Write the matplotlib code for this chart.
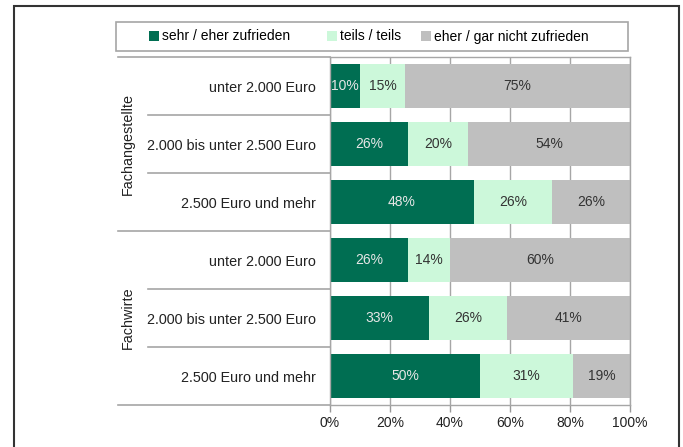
import matplotlib
matplotlib.use("Agg")
import matplotlib.pyplot as plt
from matplotlib.patches import Rectangle
import numpy as np

plt.rcParams['font.family'] = ['Liberation Sans', 'DejaVu Sans']

groups = ["Fachangestellte", "Fachwirte"]
incomes = ["unter 2.000 Euro", "2.000 bis unter 2.500 Euro", "2.500 Euro und mehr"]
series = ["sehr / eher zufrieden", "teils / teils", "eher / gar nicht zufrieden"]
colors = ["#006E52", "#CCF8DA", "#BFBFBF"]
text_colors = ["#E6E6E6", "#333333", "#333333"]

zufrieden = [10, 26, 48, 26, 33, 50]
teils = [15, 20, 26, 14, 26, 31]
nicht = [75, 54, 26, 60, 41, 19]

xticks = [0, 20, 40, 60, 80, 100]

fig = plt.figure(figsize=(6.83, 4.47), dpi=100)
ax = fig.add_axes([330 / 683, 1 - 405 / 447, 300 / 683, 348 / 447])

rows = len(zufrieden)
y = np.arange(rows)
values = [zufrieden, teils, nicht]
left = np.zeros(rows)
for vals, c, tc, name in zip(values, colors, text_colors, series):
    bars = ax.barh(y, vals, left=left, height=0.75, color=c, label=name, zorder=2)
    for b, v in zip(bars, vals):
        ax.text(b.get_x() + b.get_width() / 2, b.get_y() + b.get_height() / 2,
                f"{v}%", ha="center", va="center", color=tc, fontsize=10, zorder=3)
    left += np.array(vals)

ax.set_xlim(0, 100)
ax.set_ylim(rows - 0.5, -0.5)
ax.set_xticks(xticks)
ax.set_xticklabels([f"{t}%" for t in xticks], fontsize=10, color="#222222")
ax.set_yticks(y)
ax.set_yticklabels(incomes * 2, fontsize=10.4, color="#222222")
ax.tick_params(axis="y", length=0, pad=10)
ax.tick_params(axis="x", length=5, color="#999999", width=1, pad=3)
ax.grid(axis="x", color="#A6A6A6", linewidth=1, zorder=0)
ax.set_axisbelow(True)
for s in ax.spines.values():
    s.set_color("#A6A6A6")
    s.set_linewidth(1)

# separator lines in the label area
line_kw = dict(color="#A6A6A6", linewidth=1.2, clip_on=False)
for yb in [-0.5, 2.5, 5.5]:
    ax.plot([-70.7, 0], [yb, yb], **line_kw)
for yb in [0.5, 1.5, 3.5, 4.5]:
    ax.plot([-60.7, 0], [yb, yb], **line_kw)

for i, g in enumerate(groups):
    ax.text(-67.5, 3 * i + 1, g, rotation=90, ha="center", va="center",
            fontsize=10.4, color="#222222")

# legend box
fig.patches.append(Rectangle((116 / 683, 1 - 51 / 447), 512 / 683, 29 / 447,
                             transform=fig.transFigure, fill=False,
                             edgecolor="#A6A6A6", linewidth=1.2))
handles, labels = ax.get_legend_handles_labels()
for h, l, xpos in zip(handles, labels, [149, 327, 421]):
    leg = fig.legend([h], [l], loc="center left", bbox_to_anchor=(xpos / 683, 1 - 36.5 / 447),
                     frameon=False, fontsize=10, handlelength=0.7, handleheight=0.7,
                     handletextpad=0.2, borderpad=0, borderaxespad=0)

# outer frame
fig.patches.append(Rectangle((14 / 683, -0.05), 665 / 683, 1 - 6 / 447 + 0.05,
                             transform=fig.transFigure, fill=False,
                             edgecolor="#333333", linewidth=1.5))

fig.savefig("out.png", dpi=100)
